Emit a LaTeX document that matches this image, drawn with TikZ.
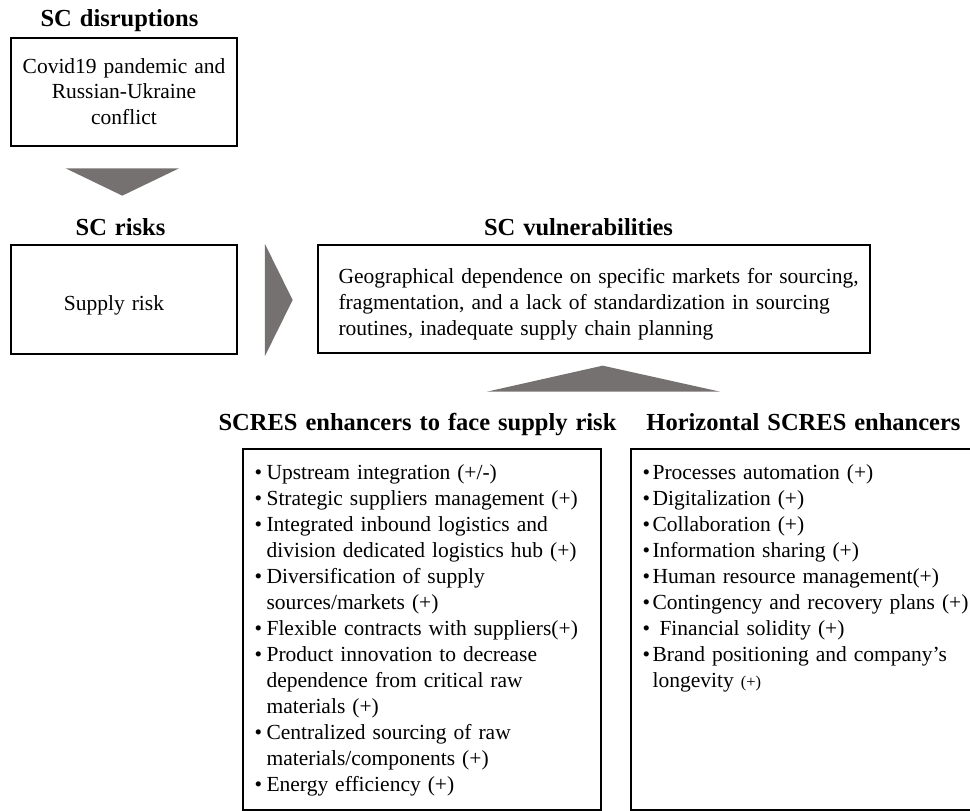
\documentclass[tikz,border=0pt]{standalone}
\usepackage{fontspec}
\setmainfont{Liberation Serif}[WordSpace=1.3]
\usetikzlibrary{calc}

\definecolor{chevrongrey}{RGB}{118,113,113}

% bullet boxes for the two enhancer lists
\newcommand{\lbul}{\makebox[12pt][l]{•}}
\newcommand{\lind}{\hspace*{12pt}}
\newcommand{\hbul}{\makebox[10pt][l]{•}}
\newcommand{\hind}{\hspace*{10pt}}

\tikzset{
  frame/.style={draw=black, line width=1.3pt, inner sep=0pt, rectangle},
  heading/.style={font=\fontsize{24.5}{29}\selectfont\bfseries, inner sep=0pt, anchor=base},
  ctxt/.style={font=\fontsize{21.5}{26}\selectfont, inner sep=0pt, anchor=base},
  ltxt/.style={font=\fontsize{21.5}{26}\selectfont, inner sep=0pt, anchor=base west},
  chevron/.style={fill=chevrongrey, draw=none}
}

\begin{document}
\begin{tikzpicture}[x=1pt, y=-1pt]
\useasboundingbox (0,0) rectangle (970,811);
\clip (0,0) rectangle (970,811);

% ---- SC disruptions ----
\node[heading] (dis-t) at (119.5,26) {SC disruptions};
\node[frame, minimum width=226pt, minimum height=108pt] (dis) at (124,92) {};
\node[ctxt] (dis-1) at ($(dis.north)+(0,36)$) {Covid19 pandemic and};
\node[ctxt] (dis-2) at ($(dis.north)+(0,61.5)$) {Russian-Ukraine};
\node[ctxt] (dis-3) at ($(dis.north)+(0,87)$) {conflict};

% ---- SC risks ----
\node[heading] (risk-t) at (120.5,235) {SC risks};
\node[frame, minimum width=226pt, minimum height=109pt] (risk) at (124,299.5) {};
\node[ctxt] (risk-1) at ($(risk.center)+(-10,10.5)$) {Supply risk};

% ---- SC vulnerabilities ----
\node[heading] (vul-t) at (578.5,235) {SC vulnerabilities};
\node[frame, minimum width=552pt, minimum height=108pt] (vul) at (594,299) {};
\foreach \t [count=\i] in {
  {Geographical dependence on specific markets for sourcing,},
  {fragmentation, and a lack of standardization in sourcing},
  {routines, inadequate supply chain planning}}
  \node[ltxt] (vul-\i) at ($(vul.north west)+(21,{39+26*(\i-1)})$) {\t};

% ---- SCRES enhancers to face supply risk ----
\node[heading] (enh-t) at (417.5,430) {SCRES enhancers to face supply risk};
\node[frame, minimum width=358pt, minimum height=361pt] (enh) at (422,629.5) {};
\foreach \t [count=\i] in {
  {\lbul Upstream integration (+/-)},
  {\lbul Strategic suppliers management (+)},
  {\lbul Integrated inbound logistics and},
  {\lind division dedicated logistics hub (+)},
  {\lbul Diversification of supply},
  {\lind sources/markets (+)},
  {\lbul Flexible contracts with suppliers(+)},
  {\lbul Product innovation to decrease},
  {\lind dependence from critical raw},
  {\lind materials (+)},
  {\lbul Centralized sourcing of raw},
  {\lind materials/components (+)},
  {\lbul Energy efficiency (+)}}
  \node[ltxt] (enh-\i) at ($(enh.north west)+(12,{31+26.05*(\i-1)})$) {\t};

% ---- Horizontal SCRES enhancers ----
\node[heading] (hor-t) at (803.5,430) {Horizontal SCRES enhancers};
\node[frame, minimum width=340.5pt, minimum height=361pt] (hor) at (801.25,629.5) {};
\foreach \t [count=\i] in {
  {\hbul Processes automation (+)},
  {\hbul Digitalization (+)},
  {\hbul Collaboration (+)},
  {\hbul Information sharing (+)},
  {\hbul Human resource management(+)},
  {\hbul Contingency and recovery plans (+)},
  {\hbul\ Financial solidity (+)},
  {\hbul Brand positioning and company’s},
  {\hind longevity {\fontsize{16.5}{20}\selectfont (+)}}}
  \node[ltxt] (hor-\i) at ($(hor.north west)+(12,{31+26*(\i-1)})$) {\t};

% ---- block arrows between the stages ----
\fill[chevron] ($(dis.south)+(-58.3,21.7)$) -- ($(dis.south)+(55,21.7)$)
  -- ($(dis.south)+(-1.7,49)$) -- cycle;
\fill[chevron] ($(risk.east)+(27.3,-55.5)$) -- ($(risk.east)+(55,0.5)$)
  -- ($(risk.east)+(27.3,56.5)$) -- cycle;
\fill[chevron] ($(vul.south)+(-107,38)$) -- ($(vul.south)+(126,38)$)
  -- ($(vul.south)+(8.7,12)$) -- cycle;
\end{tikzpicture}
\end{document}
